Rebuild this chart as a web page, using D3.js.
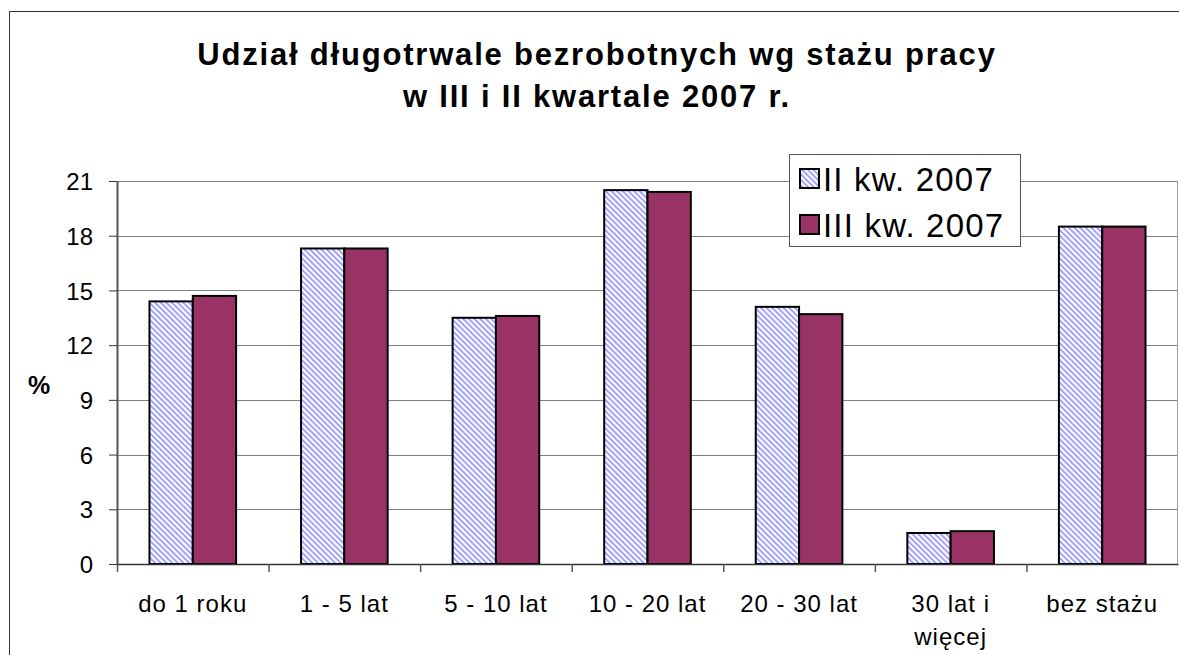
<!DOCTYPE html>
<html>
<head>
<meta charset="utf-8">
<script src="https://cdn.jsdelivr.net/npm/d3@7"></script>
<style>
  body { margin: 0; background: #fff; }
  svg text { font-family: "Liberation Sans", Arial, sans-serif; fill: #000; }
</style>
</head>
<body>
<div id="chart"></div>
<script>
const categories = ["do 1 roku", "1 - 5 lat", "5 - 10 lat", "10 - 20 lat", "20 - 30 lat", "30 lat i więcej", "bez stażu"];
const seriesNames = ["II kw. 2007", "III kw. 2007"];
const q2Values = [14.4, 17.3, 13.5, 20.5, 14.1, 1.7, 18.5];
const q3Values = [14.7, 17.3, 13.6, 20.4, 13.7, 1.8, 18.5];
const yTicks = [0, 3, 6, 9, 12, 15, 18, 21];

const width = 1179, height = 655;
const margin = {left: 117, top: 181, right: 1, bottom: 91};
const plotW = width - margin.left - margin.right;
const plotH = height - margin.top - margin.bottom;

const svg = d3.select("#chart").append("svg")
  .attr("width", width)
  .attr("height", height);

// hatch pattern for II kw. (lines running down to the right)
const defs = svg.append("defs");
const pat = defs.append("pattern")
  .attr("id", "hatch")
  .attr("patternUnits", "userSpaceOnUse")
  .attr("width", 4).attr("height", 4)
  .attr("patternTransform", "rotate(-45)");
pat.append("rect").attr("width", 4).attr("height", 4).attr("fill", "#fff");
pat.append("rect").attr("width", 1.8).attr("height", 4).attr("fill", "#9999ff");

// outer chart frame
svg.append("rect")
  .attr("x", 9.5).attr("y", 11.5)
  .attr("width", 1200).attr("height", 700)
  .attr("fill", "none").attr("stroke", "#333").attr("stroke-width", 1);

// title
const title = svg.append("text")
  .attr("text-anchor", "middle")
  .attr("font-weight", "bold")
  .attr("font-size", 31)
  .style("letter-spacing", "1.8px");
title.append("tspan").attr("x", 597).attr("y", 65).text("Udział długotrwale bezrobotnych wg stażu pracy");
title.append("tspan").attr("x", 597).attr("y", 107).text("w III i II kwartale 2007 r.");

const g = svg.append("g").attr("transform", `translate(${margin.left},${margin.top})`);

const x0 = d3.scaleBand().domain(categories).range([0, plotW]).paddingInner(0).paddingOuter(0);
const barW = x0.bandwidth() / 3.5;
const x1 = d3.scaleBand().domain(seriesNames).range([barW * 0.75, barW * 2.75]);
const y = d3.scaleLinear().domain([0, 21]).range([plotH, 0]);

// gridlines
g.append("g")
  .selectAll("line")
  .data(yTicks.filter(d => d > 0))
  .join("line")
  .attr("x1", 0).attr("x2", plotW)
  .attr("y1", d => Math.round(y(d)) + 0.5).attr("y2", d => Math.round(y(d)) + 0.5)
  .attr("stroke", "#808080").attr("stroke-width", 1);

// plot right border
g.append("line")
  .attr("x1", plotW - 0.5).attr("x2", plotW - 0.5)
  .attr("y1", 0).attr("y2", plotH)
  .attr("stroke", "#a0a0a0");

// bars
const rows = categories.map((c, i) => ({cat: c, vals: [q2Values[i], q3Values[i]]}));
const groups = g.selectAll("g.cat")
  .data(rows)
  .join("g")
  .attr("class", "cat")
  .attr("transform", d => `translate(${x0(d.cat)},0)`);

groups.selectAll("rect")
  .data(d => d.vals.map((v, j) => ({name: seriesNames[j], v: v})))
  .join("rect")
  .attr("x", d => x1(d.name))
  .attr("y", d => y(d.v))
  .attr("width", x1.bandwidth())
  .attr("height", d => plotH - y(d.v))
  .attr("fill", d => d.name === seriesNames[0] ? "url(#hatch)" : "#993366")
  .attr("stroke", "#000")
  .attr("stroke-width", 2);

// y axis
const yAxis = g.append("g")
  .call(d3.axisLeft(y).tickValues(yTicks).tickSize(8).tickPadding(16).tickSizeOuter(0));
yAxis.select(".domain").attr("stroke", "#555").attr("stroke-width", 2);
yAxis.selectAll(".tick line").attr("stroke", "#333");
yAxis.selectAll("text")
  .attr("font-size", 24)
  .attr("font-family", "Liberation Sans, Arial, sans-serif")
  .attr("dy", "0.36em");

// x axis
const xAxis = g.append("g")
  .attr("transform", `translate(0,${plotH})`)
  .call(d3.axisBottom(x0).tickSize(0).tickSizeOuter(0));
xAxis.select(".domain").attr("stroke", "#333").attr("stroke-width", 1.5);
xAxis.selectAll(".tick text").remove();
// category boundary ticks
xAxis.selectAll("line.bound")
  .data(categories)
  .join("line")
  .attr("class", "bound")
  .attr("x1", d => x0(d) + 0.5).attr("x2", d => x0(d) + 0.5)
  .attr("y1", 0).attr("y2", 8)
  .attr("stroke", "#555").attr("stroke-width", 1.5);

const labelLines = {"30 lat i więcej": ["30 lat i", "więcej"]};
const xl = xAxis.selectAll("text.lab")
  .data(categories)
  .join("text")
  .attr("class", "lab")
  .attr("text-anchor", "middle")
  .attr("font-size", 24)
  .attr("font-family", "Liberation Sans, Arial, sans-serif")
  .style("letter-spacing", "1px")
  .attr("fill", "#000");
xl.each(function(d) {
  const lines = labelLines[d] || [d];
  const t = d3.select(this);
  lines.forEach((ln, i) => {
    t.append("tspan")
      .attr("x", x0(d) + x0.bandwidth() / 2)
      .attr("y", 48 + i * 33)
      .text(ln);
  });
});

// y label
svg.append("text")
  .attr("x", 39).attr("y", 394)
  .attr("text-anchor", "middle")
  .attr("font-weight", "bold")
  .attr("font-size", 25)
  .text("%");

// legend
const legend = svg.append("g").attr("transform", "translate(789,154)");
legend.append("rect")
  .attr("x", 0.5).attr("y", 0.5)
  .attr("width", 231).attr("height", 92)
  .attr("fill", "#fff").attr("stroke", "#555");
seriesNames.forEach((name, i) => {
  const row = legend.append("g").attr("transform", `translate(11,${15 + i * 46})`);
  row.append("rect")
    .attr("x", 0).attr("y", 0).attr("width", 19).attr("height", 19)
    .attr("fill", i === 0 ? "url(#hatch)" : "#993366")
    .attr("stroke", "#000").attr("stroke-width", 2);
  row.append("text")
    .attr("x", 23).attr("y", 22)
    .attr("font-size", 33)
    .style("letter-spacing", "1.2px")
    .text(name);
});
</script>
</body>
</html>
